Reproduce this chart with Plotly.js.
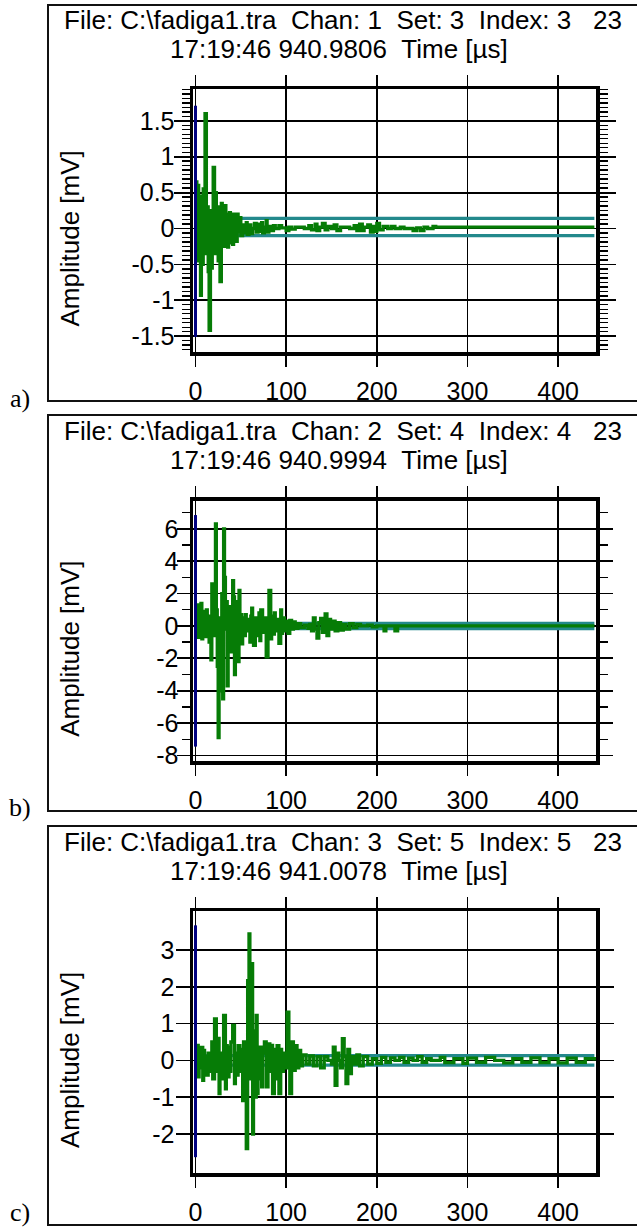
<!DOCTYPE html>
<html><head><meta charset="utf-8">
<script src="https://cdn.plot.ly/plotly-3.0.1.min.js"></script>
<style>html,body{margin:0;padding:0;background:#fff;}#chart{width:637px;height:1229px;}</style>
</head><body><div id="chart"></div>
<script>
// ---------- DATA ----------
const time_a = [0,0.5,1.5,2.5,3.5,4.5,5.5,6.5,7.5,8.5,9.5,10.5,12,13,14,15,16.5,17.5,18.5,19.5,21,22,23,24,25,26,27,28.5,29.5,30.5,31.5,32.5,33.5,34.5,35.5,36.5,37.5,38.5,39.5,41,42,43,44,45,46,47,48,50,52,54,56,57,59,61,63,65,67,69,71,73,74,76,78,79,81,84,86,88,92,95,100,103,106,110,120,125,128,132,134,137,140,143,146,150,153,156,160,170,175,178,181,184,186,190,193,196,198,200,203,207,212,216,220,226,230,240,244,248,252,256,262,265,440];
const amp_a  = [0,0.65,-0.45,0.6,-0.3,0.45,-0.93,0.4,-0.5,0.55,-0.2,1.6,-0.35,0.3,-0.6,-1.42,0.25,-0.55,0.15,0.85,-0.35,0.5,-0.15,0.3,-0.45,0.1,-0.74,0.35,-0.1,0.28,-0.25,0.32,-0.05,0.2,-0.26,0.1,0.22,-0.2,0.15,-0.22,0.2,-0.1,0.18,-0.18,0.2,-0.05,0.15,-0.1,0.05,-0.06,0.08,-0.08,0.05,-0.07,0,0.07,-0.05,0.06,-0.04,0.08,-0.06,0.02,0.11,-0.05,0.03,-0.03,0.04,0,0.04,0.01,-0.03,0.02,-0.01,0.02,0,0.04,-0.02,0.06,-0.03,0.02,0.07,-0.02,0.03,0,0.05,-0.03,0.02,0,0.04,-0.03,0.06,-0.03,0.02,0.05,-0.05,0.03,-0.04,0.07,-0.02,0.03,0,0.03,0,0.02,0,-0.03,0.01,-0.03,0.02,0,0.03,0.02,0.02];

const time_b = [0,1,3,4,5,6,7,8,9,10,11,12,13,14,15,16,17,18,19,20,21,22,23,24,25,26,27,28,29,30,31,32,33,34,35,36,37,38,39,40,41,42,43,44,45,46,47,48,49,50,51,52,54,55,56,58,60,61,62,63,64,66,68,70,71,72,74,76,78,80,81,83,84,85,87,88,90,92,94,95,96,98,100,102,104,106,108,110,113,116,120,124,126,128,130,132,134,136,138,140,143,145,147,149,151,154,157,160,163,166,170,174,178,182,190,195,200,208,210,220,223,440];
const amp_b  = [0,1.3,-0.7,0.9,-0.4,1.4,-0.8,0.7,-0.3,0.9,-0.66,1.0,-0.2,0.6,-1.0,0.5,-2.1,2.6,0.3,1.5,-0.6,6.3,1.0,-2.5,-6.9,-4.0,0.5,-1.2,2.0,-4.5,6.0,3.0,-0.2,1.5,-3.7,0.8,-0.5,1.2,-1.6,0.4,2.8,1.8,-3.0,0.9,-0.8,1.5,-2.2,2.2,-0.6,0.7,-1.1,0.5,-0.6,0.7,-0.3,0.4,-1.0,0.6,1.1,-0.2,-1.2,0.5,-0.6,0.8,-0.9,1.0,-0.4,0.5,-1.9,0.3,2.2,-0.8,0.6,-0.5,0.8,-0.3,0.4,-1.07,1.0,-0.45,0.5,-0.3,0.3,-0.45,0.35,-0.2,0.25,-0.15,0.15,-0.1,0.05,-0.15,0.1,-0.3,0.5,-0.2,-0.75,0.2,0.47,-0.4,0.75,-0.6,0.4,-0.2,0.3,-0.3,0.2,-0.25,0.1,-0.2,0.15,-0.1,0.1,0,0.05,-0.05,0,-0.3,0,-0.3,0,0];

const time_c = [0,1,3,4,5,6,8,9,10,11,12,14,16,18,19,21,23,24,26,27,29,31,33,34,35,37,38,39,41,43,44,46,47,49,50,52,53,55,56,57.5,59,60,61,62,63,64,65,66,67,68,69,70,71,73,74,76,78,80,82,84,85,87,88,90,92,94,95,97,99,101,103,104,106,108,110,112,114,116,118,122,126,130,134,138,142,146,150,152,154,156,158,160,162,164,166,168,170,172,175,178,181,185,190,195,200,205,210,215,220,225,230,235,240,245,250,255,260,270,275,285,295,300,310,320,330,340,350,360,370,380,390,400,410,420,430,440];
const amp_c  = [0,0.41,-0.45,0.3,-0.2,0.35,-0.54,0.27,-0.3,0.1,-0.4,0.2,-0.3,0.5,-0.5,1.13,-0.3,0.6,-0.9,0.2,-0.5,1.22,-0.77,0.4,-0.45,0.36,-0.3,0.5,0.95,-0.63,0.2,-0.4,0.4,-0.3,0.3,-1.09,0.5,-0.6,-2.4,2.17,3.44,1.5,-0.5,2.63,-2.0,0.4,0.8,-1.0,1.22,-0.9,0.3,-0.5,0.36,-0.72,0.2,0.5,-0.72,0.45,-0.3,0.41,-0.9,0.3,-0.5,0.4,-0.9,0.3,-0.3,0.2,-0.2,1.31,0.2,-0.9,0.5,-0.27,0.4,-0.2,0.27,-0.15,0.15,-0.1,0.12,-0.15,0.1,-0.2,0.1,0,-0.1,0.36,-0.68,0.2,0,-0.2,0.59,0.1,-0.63,0.3,-0.36,0.1,-0.1,0.15,-0.15,0.1,-0.1,0.05,-0.08,0.08,-0.05,0.07,0,0.08,-0.05,0.06,0,0.1,-0.05,0.05,0,0.08,-0.06,0.05,-0.08,0.06,-0.05,0.08,0,-0.07,0.05,-0.05,0.07,-0.06,0.05,-0.07,0.06,-0.05,0.05,0];

const thresholds_a = [0.14, -0.10];
const thresholds_b = [0.16, -0.16];
const thresholds_c = [0.13, -0.13];
const thresholdSpan = [0, 440];

const triggerTime = 0;
const trigger_a = [1.71, -1.51];
const trigger_b = [6.85, -7.45];
const trigger_c = [3.67, -2.63];

const xTickVals = [0, 100, 200, 300, 400];
const xTickText = ["0", "100", "200", "300", "400"];
const yTickVals_a = [1.5, 1, 0.5, 0, -0.5, -1, -1.5];
const yTickText_a = ["1.5", "1", "0.5", "0", "-0.5", "-1", "-1.5"];
const yTickVals_b = [6, 4, 2, 0, -2, -4, -6, -8];
const yTickText_b = ["6", "4", "2", "0", "-2", "-4", "-6", "-8"];
const yTickVals_c = [3, 2, 1, 0, -1, -2];
const yTickText_c = ["3", "2", "1", "0", "-1", "-2"];

const header1 = [
  "File: C:\\fadiga1.tra  Chan: 1  Set: 3  Index: 3   23",
  "File: C:\\fadiga1.tra  Chan: 2  Set: 4  Index: 4   23",
  "File: C:\\fadiga1.tra  Chan: 3  Set: 5  Index: 5   23"
];
const header2 = [
  "17:19:46 940.9806  Time [µs]",
  "17:19:46 940.9994  Time [µs]",
  "17:19:46 941.0078  Time [µs]"
];
const panelLabels = ["a)", "b)", "c)"];
const yTitle = "Amplitude [mV]";

// ---------- LAYOUT ----------
const W = 637, H = 1229;
const px = v => v / W;
const py = v => 1 - v / H;
const FONT = "Liberation Sans, Arial, sans-serif";
const SERIF = "Liberation Serif, Times New Roman, serif";
const GREEN = "#067c06", TEAL = "#23898c", NAVY = "#000080";

const series = [
  {t: time_a, v: amp_a, th: thresholds_a, trig: trigger_a, tv: yTickVals_a, tt: yTickText_a},
  {t: time_b, v: amp_b, th: thresholds_b, trig: trigger_b, tv: yTickVals_b, tt: yTickText_b},
  {t: time_c, v: amp_c, th: thresholds_c, trig: trigger_c, tv: yTickVals_c, tt: yTickText_c}
];
const frames = [{top: 89, bottom: 352}, {top: 500.5, bottom: 761}, {top: 911, bottom: 1173}];
const boxes = [{top: 5, bottom: 401}, {top: 415, bottom: 811}, {top: 826, bottom: 1225}];
const textY = [[20, 49], [431, 460], [842, 871]];
const labelY = [398, 807, 1212];
const yRanges = [[-1.72, 1.943], [-8.34, 7.75], [-3.06, 4.06]];
const yMinor = [0.0625, 1, null];
const yTickLen = [16, 13, 14];
const yLabelShift = [-6, -7, -4];
const xDomainPx = [193, 596];
const xRange = [-2.76, 441.8];

const traces = [];
const layout = {
  width: W, height: H, margin: {l: 0, r: 0, t: 0, b: 0},
  paper_bgcolor: "#fff", plot_bgcolor: "#fff", showlegend: false,
  annotations: [], shapes: []
};

series.forEach((s, i) => {
  const sfx = i === 0 ? "" : String(i + 1);
  const xa = "x" + sfx, ya = "y" + sfx;
  s.th.forEach(level => {
    traces.push({type: "scatter", mode: "lines", x: thresholdSpan, y: [level, level],
      xaxis: xa, yaxis: ya, line: {color: TEAL, width: 3.2}, hoverinfo: "skip"});
  });
  traces.push({type: "scatter", mode: "lines", x: s.t, y: s.v, xaxis: xa, yaxis: ya,
    line: {color: GREEN, width: 3.3, shape: "hv"}, hoverinfo: "skip"});
  traces.push({type: "scatter", mode: "lines", x: [triggerTime, triggerTime], y: s.trig,
    xaxis: xa, yaxis: ya, line: {color: NAVY, width: 3}, hoverinfo: "skip"});

  const f = frames[i];
  layout["xaxis" + sfx] = {
    domain: [px(xDomainPx[0]), px(xDomainPx[1])], range: xRange, anchor: ya,
    tickmode: "array", tickvals: xTickVals, ticktext: xTickText,
    ticks: "outside", ticklen: 11, tickwidth: 1.8, tickcolor: "#000",
    showline: true, linewidth: 3.5, linecolor: "#000", mirror: "ticks",
    showgrid: true, gridcolor: "#000", gridwidth: 1.8, zeroline: false,
    tickfont: {family: FONT, size: 25, color: "#000"}, ticklabelstandoff: 3
  };
  const yax = {
    domain: [py(f.bottom), py(f.top)], range: yRanges[i], anchor: xa,
    tickmode: "array", tickvals: s.tv, ticktext: s.tt,
    ticks: "outside", ticklen: yTickLen[i], tickwidth: 1.8, tickcolor: "#000",
    showline: true, linewidth: 3.5, linecolor: "#000", mirror: "ticks",
    showgrid: true, gridcolor: "#000", gridwidth: 1.8, zeroline: false,
    tickfont: {family: FONT, size: 25, color: "#000"}, ticklabelstandoff: yLabelShift[i]
  };
  if (yMinor[i]) {
    yax.minor = {tickmode: "linear", dtick: yMinor[i], tick0: 0, ticks: "outside", ticklen: 8,
      tickwidth: 1.4, tickcolor: "#000", showgrid: false};
  }
  layout["yaxis" + sfx] = yax;

  const b = boxes[i];
  layout.shapes.push({type: "rect", xref: "paper", yref: "paper",
    x0: px(48), x1: px(660), y0: py(b.bottom), y1: py(b.top),
    line: {color: "#111", width: 2}, fillcolor: "rgba(0,0,0,0)"});

  layout.annotations.push({xref: "paper", yref: "paper", x: px(62), y: py(textY[i][0]),
    xanchor: "left", yanchor: "middle", showarrow: false,
    text: header1[i].replace(/ /g, "\u00a0"), font: {family: FONT, size: 26, color: "#000"}});
  layout.annotations.push({xref: "paper", yref: "paper", x: px(338.5), y: py(textY[i][1]),
    xanchor: "center", yanchor: "middle", showarrow: false,
    text: header2[i].replace(/ /g, "\u00a0"), font: {family: FONT, size: 26, color: "#000"}});
  layout.annotations.push({xref: "paper", yref: "paper", x: px(70), y: py((f.top + f.bottom) / 2 + 18),
    xanchor: "center", yanchor: "middle", showarrow: false, textangle: -90,
    text: yTitle, font: {family: FONT, size: 26, color: "#000"}});
  layout.annotations.push({xref: "paper", yref: "paper", x: px(20), y: py(labelY[i]),
    xanchor: "center", yanchor: "middle", showarrow: false,
    text: panelLabels[i], font: {family: SERIF, size: 26, color: "#000"}});
});

Plotly.newPlot("chart", traces, layout, {staticPlot: true, displayModeBar: false});
</script></body></html>
